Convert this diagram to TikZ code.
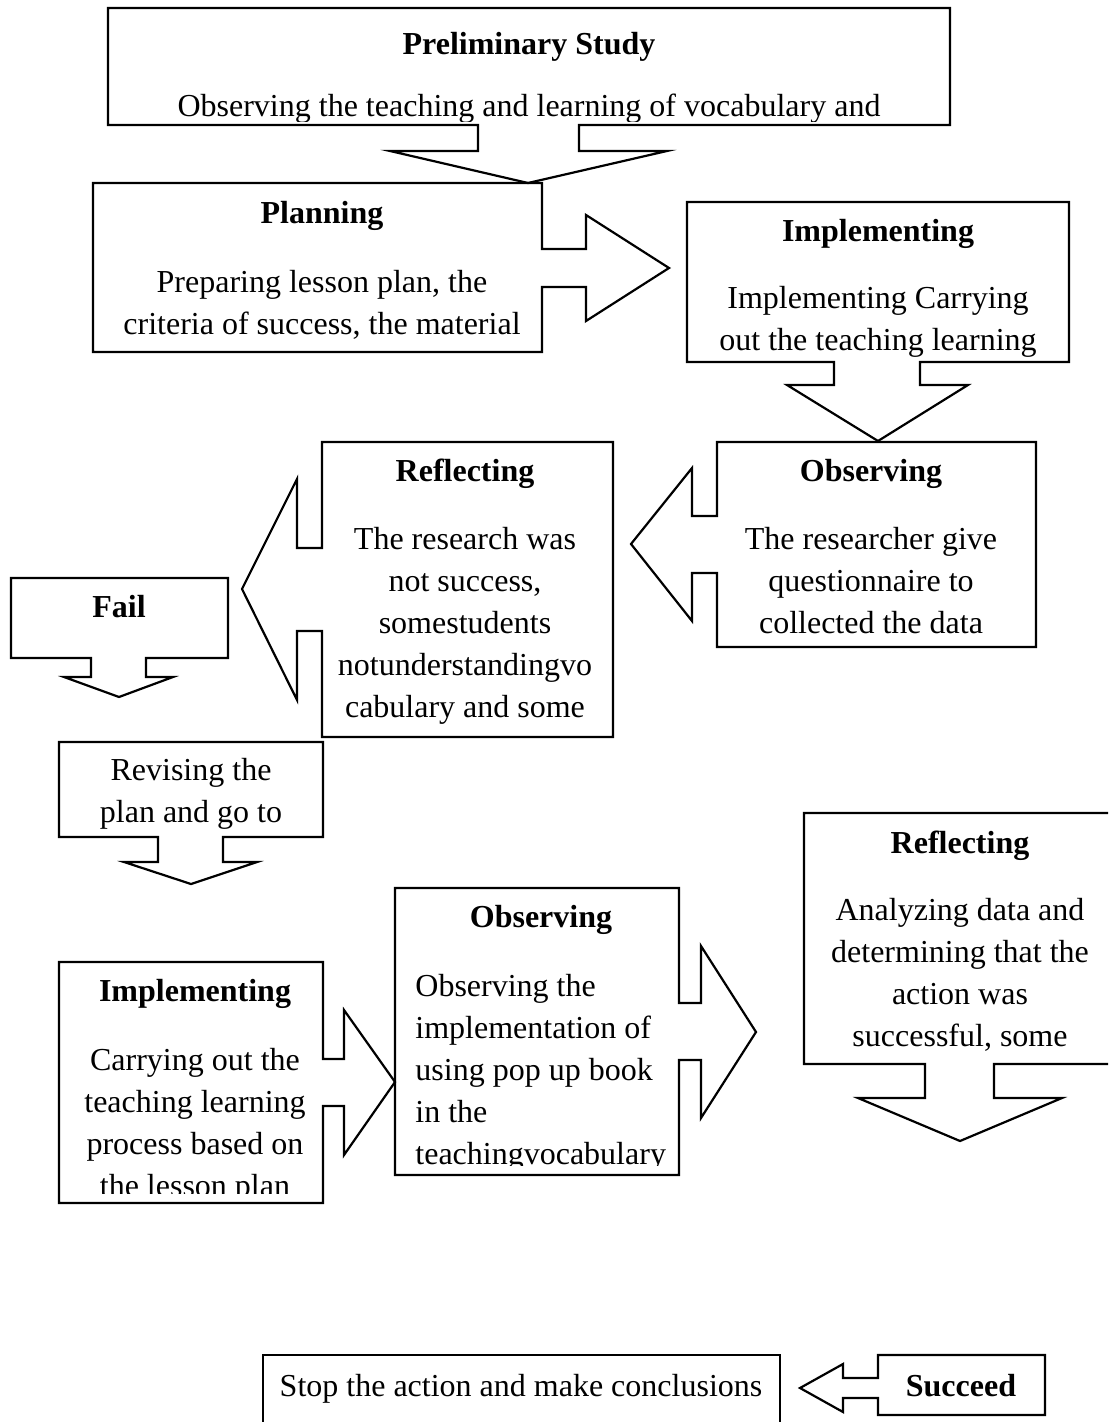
\documentclass[tikz,border=0pt]{standalone}
\usepackage{fontspec}
\setmainfont{Liberation Serif}
\usetikzlibrary{positioning}

\begin{document}
\begin{tikzpicture}[
  x=0.5pt, y=-0.5pt,
  callout/.style={draw,line width=1.1pt,line join=miter},
  headtxt/.style={anchor=base,inner sep=0pt,font=\fontsize{16}{21}\selectfont\bfseries},
  bodytxt/.style={anchor=base,inner sep=0pt,align=center,font=\fontsize{16}{21}\selectfont},
  lefttxt/.style={anchor=base west,inner sep=0pt,align=left,font=\fontsize{16}{21}\selectfont}
]
\clip (0,0) rectangle (1108,1422);
% (text nodes are placed at the baseline of their last line)

% --- Preliminary Study ---
\draw[callout] (108,8) -- (950,8) -- (950,125) -- (579,125) -- (579,151) -- (667,151)
  -- (528,183) -- (390,151) -- (478,151) -- (478,125) -- (108,125) -- cycle;
\node[headtxt] (prelimhead) at (529,55) {Preliminary Study};
\begin{scope}
  \clip (108,8) rectangle (950,122);
  \node[bodytxt] (prelimtxt) at (529,117) {Observing the teaching and learning of vocabulary and};
\end{scope}

% --- Planning ---
\draw[callout] (93,183) -- (542,183) -- (542,249) -- (586,249) -- (586,215) -- (669,268)
  -- (586,321) -- (586,287) -- (542,287) -- (542,352) -- (93,352) -- cycle;
\node[headtxt] (planhead) at (322,224) {Planning};
\node[bodytxt] (plantxt) at (322,335) {Preparing lesson plan, the\\criteria of success, the material};

% --- Implementing ---
\draw[callout] (687,202) -- (1069,202) -- (1069,362) -- (920,362) -- (920,385) -- (968,385)
  -- (878,441) -- (787,385) -- (834,385) -- (834,362) -- (687,362) -- cycle;
\node[headtxt] (implhead) at (878,242) {Implementing};
\begin{scope}
  \clip (687,202) rectangle (1069,357);
  \node[bodytxt] (impltxt) at (878,351) {Implementing Carrying\\out the teaching learning};
\end{scope}

% --- Observing ---
\draw[callout] (717,442) -- (1036,442) -- (1036,647) -- (717,647) -- (717,573) -- (692,573)
  -- (692,621) -- (631,544) -- (692,468) -- (692,516) -- (717,516) -- cycle;
\node[headtxt] (obshead) at (871,481) {Observing};
\node[bodytxt] (obstxt) at (871,633) {The researcher give\\questionnaire to\\collected the data};

% --- Reflecting ---
\draw[callout] (322,442) -- (613,442) -- (613,737) -- (322,737) -- (322,631) -- (297,631)
  -- (297,700) -- (242,589) -- (297,479) -- (297,548) -- (322,548) -- cycle;
\node[headtxt] (reflhead) at (465,481) {Reflecting};
\node[bodytxt] (refltxt) at (465,717) {The research was\\not success,\\somestudents\\notunderstandingvo\\cabulary and some};

% --- Fail ---
\draw[callout] (11,578) -- (228,578) -- (228,658) -- (146,658) -- (146,677) -- (173,677)
  -- (119,697) -- (64,677) -- (91,677) -- (91,658) -- (11,658) -- cycle;
\node[headtxt] (fail) at (119,617) {Fail};

% --- Revising ---
\draw[callout] (59,742) -- (323,742) -- (323,837) -- (223,837) -- (223,862) -- (257,862)
  -- (191,884) -- (124,862) -- (158,862) -- (158,837) -- (59,837) -- cycle;
\node[bodytxt] (revise) at (191,822) {Revising the\\plan and go to};

% --- Implementing (cycle 2) ---
\draw[callout] (59,962) -- (323,962) -- (323,1059) -- (344,1059) -- (344,1010) -- (395,1082)
  -- (344,1155) -- (344,1106) -- (323,1106) -- (323,1203) -- (59,1203) -- cycle;
\node[headtxt] (impltwohead) at (195,1001) {Implementing};
\begin{scope}
  \clip (59,962) rectangle (323,1193);
  \node[bodytxt] (impltwotxt) at (195,1196) {Carrying out the\\teaching learning\\process based on\\the lesson plan};
\end{scope}

% --- Observing (cycle 2) ---
\draw[callout] (395,888) -- (679,888) -- (679,1003) -- (701,1003) -- (701,946) -- (756,1032)
  -- (701,1118) -- (701,1060) -- (679,1060) -- (679,1175) -- (395,1175) -- cycle;
\node[headtxt] (obstwohead) at (541,927) {Observing};
\begin{scope}
  \clip (395,888) rectangle (679,1165);
  \node[lefttxt] (obstwotxt) at (415,1164) {Observing the\\implementation of\\using pop up book\\in the\\teachingvocabulary};
\end{scope}

% --- Reflecting (cycle 2) ---
\draw[callout] (804,813) -- (1116,813) -- (1116,1064) -- (994,1064) -- (994,1098) -- (1062,1098)
  -- (960,1141) -- (858,1098) -- (925,1098) -- (925,1064) -- (804,1064) -- cycle;
\node[headtxt] (refltwohead) at (960,853) {Reflecting};
\node[bodytxt] (refltwotxt) at (960,1046) {Analyzing data and\\determining that the\\action was\\successful, some};

% --- Succeed / Stop ---
\draw[callout] (263,1440) -- (263,1355) -- (780,1355) -- (780,1440);
\node[bodytxt] (stop) at (521,1396) {Stop the action and make conclusions};
\draw[callout] (878,1355) -- (1045,1355) -- (1045,1415) -- (878,1415) -- (878,1398) -- (843,1398)
  -- (843,1412) -- (800,1388) -- (843,1364) -- (843,1378) -- (878,1378) -- cycle;
\node[headtxt] (succeed) at (961,1396) {Succeed};
\end{tikzpicture}
\end{document}
